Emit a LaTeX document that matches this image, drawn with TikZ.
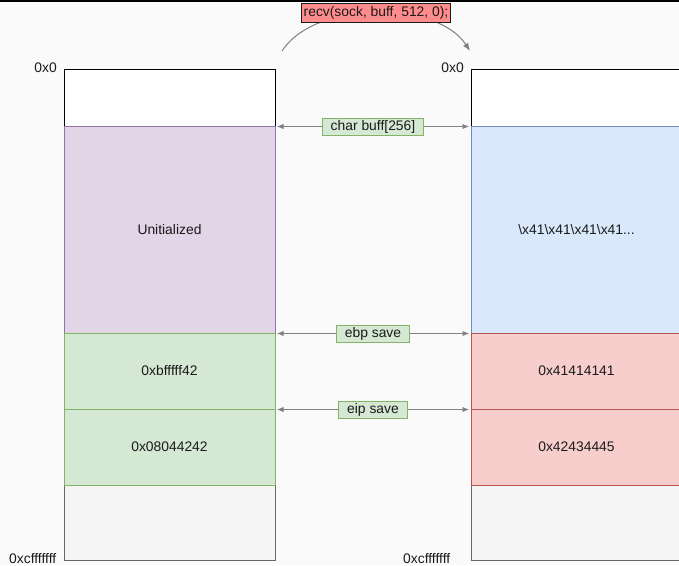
\documentclass[tikz,border=0pt]{standalone}
\usepackage{fontspec}
\setmainfont{Liberation Sans}
\usetikzlibrary{arrows.meta}
\definecolor{bgc}{HTML}{FAFAFA}
\definecolor{purf}{HTML}{E1D5E7}\definecolor{purd}{HTML}{9673A6}
\definecolor{grnf}{HTML}{D5E8D4}\definecolor{grnd}{HTML}{82B366}
\definecolor{gryf}{HTML}{F5F5F5}\definecolor{gryd}{HTML}{666666}
\definecolor{bluf}{HTML}{DAE8FC}\definecolor{blud}{HTML}{6C8EBF}
\definecolor{redf}{HTML}{F8CECC}\definecolor{redd}{HTML}{B85450}
\definecolor{recvf}{HTML}{FF8C8C}
\definecolor{txt}{HTML}{1A1A1A}
\definecolor{arr}{HTML}{808080}
\begin{document}
\begin{tikzpicture}[x=0.75pt,y=-0.75pt,
  every node/.style={font=\fontsize{10.4}{12}\selectfont, text=txt},
  block/.style={draw, line width=0.75pt, minimum width=158.25pt, inner sep=0pt},
  rowA/.style={block, minimum height=42.75pt},
  rowB/.style={block, minimum height=155.25pt},
  rowC/.style={block, minimum height=57pt},
  rowD/.style={block, minimum height=56.25pt},
  lbl/.style={draw=grnd, fill=grnf, line width=0.75pt, inner xsep=6.5pt, inner ysep=0pt, minimum height=12.75pt},
  dbl/.style={draw=arr, line width=0.75pt, {Latex[length=5pt,width=4pt]}-{Latex[length=5pt,width=4pt]}, shorten <=1pt, shorten >=1pt},
  addr/.style={inner sep=0pt}
]
\useasboundingbox (0,0) rectangle (679,565);
\clip (0,0) rectangle (679,565);
\fill[bgc] (0,0) rectangle (679,565);
\fill[black] (0,0) rectangle (679,2);

% left column
\node[rowA, draw=black, fill=white] (lw) at (169.5,97.5) {};
\node[rowD, draw=gryd, fill=gryf] (lgr) at (169.5,522.5) {};
\node[rowB, draw=purd, fill=purf] (lp) at (169.5,229.5) {Unitialized};
\node[rowC, draw=grnd, fill=grnf] (lg1) at (169.5,371) {0xbfffff42};
\node[rowC, draw=grnd, fill=grnf] (lg2) at (169.5,447) {0x08044242};

% right column
\node[rowA, draw=black, fill=white] (rw) at (576.5,97.5) {};
\node[rowD, draw=gryd, fill=gryf] (rgr) at (576.5,522.5) {};
\node[rowB, draw=blud, fill=bluf] (rp) at (576.5,229.5) {\textbackslash x41\textbackslash x41\textbackslash x41\textbackslash x41...};
\node[rowC, draw=redd, fill=redf] (rg1) at (576.5,371) {0x41414141};
\node[rowC, draw=redd, fill=redf] (rg2) at (576.5,447) {0x42434445};

% address labels
\node[addr, anchor=east] (l0) at (57,68) {0x0};
\node[addr, anchor=east] (r0) at (464,68) {0x0};
\node[addr, anchor=east] (lend) at (56.5,558.5) {0xcfffffff};
\node[addr, anchor=east] (rend) at (450.5,558.5) {0xcfffffff};

% connectors
\draw[dbl] (lw.south east) -- (rw.south west) node[midway, lbl] (c1) {char buff[256]};
\draw[dbl] (lp.south east) -- (rp.south west) node[midway, lbl] (c2) {ebp save};
\draw[dbl] (lg1.south east) -- (rg1.south west) node[midway, lbl] (c3) {eip save};

% recv curve
\coordinate (cs) at (282,51);
\coordinate (ce) at (470,51);
\draw[draw=arr, line width=0.75pt, -{Latex[length=6pt,width=4.5pt]}] (cs) .. controls (315,0) and (437,0) .. (ce);
\node[draw=txt, fill=recvf, line width=0.75pt, inner xsep=1.5pt, inner ysep=0pt, minimum height=14.25pt] (recv) at (376,12.5) {recv(sock, buff, 512, 0);};
\end{tikzpicture}
\end{document}
